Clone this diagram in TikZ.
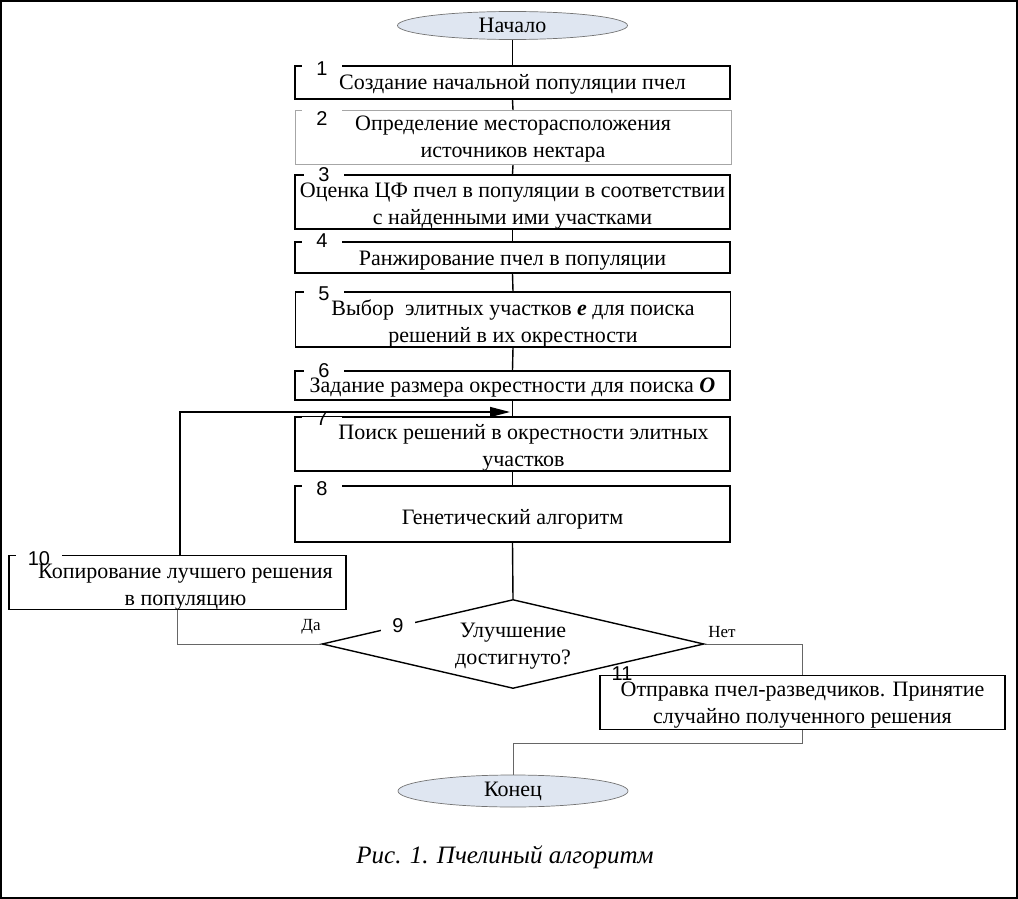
\documentclass[tikz,border=0pt]{standalone}
\usepackage{fontspec}
\setmainfont{Liberation Serif}
\newfontfamily\numfont{Liberation Sans}
\usetikzlibrary{shapes.geometric,arrows.meta,backgrounds}
% digit lowered by #1 while its box is a thin strip round the border
\newcommand\numtxt[2]{\raisebox{#1}[2.5pt][2.5pt]{#2}}
% box text lowered by #1, keeping its reported size
\newcommand\bt[2]{\raisebox{#1}[\height][\depth]{\begin{tabular}{@{}c@{}}#2\end{tabular}}}
\begin{document}
\begin{tikzpicture}[x=1pt,y=-1pt,
  every node/.style={font=\fontsize{22}{27}\selectfont},
  stepbox/.style={draw, line width=1.5pt, fill=white, rectangle, inner sep=0pt, align=center},
  graybox/.style={stepbox, draw=black!35, line width=1pt},
  term/.style={ellipse, draw=black!55, line width=0.7pt, fill=termfill, inner sep=0pt, minimum width=230pt, font=\fontsize{22}{24}\selectfont},
  numlbl/.style={fill=white, inner sep=0pt, minimum width=40pt, font=\numfont\fontsize{20}{20}\selectfont},
  conn/.style={line width=1.4pt},
  gconn/.style={line width=0.8pt, draw=black!60},
  small/.style={font=\fontsize{17}{20}\selectfont}
]
\definecolor{termfill}{HTML}{DFE6F1}
\useasboundingbox (0,0) rectangle (1018,899);
\draw[line width=2pt] (1,1) rectangle (1017,898);

% terminals
\node[term, minimum height=28pt] (start) at (512.5,25.5) {Начало};
\node[term, minimum height=32pt] (end) at (513,791) {Конец};

% boxes
\node[stepbox, minimum width=435pt, minimum height=33pt] (b1) at (512.5,82.5) {\bt{-2pt}{Создание начальной популяции пчел}};
\node[graybox, minimum width=436pt, minimum height=51pt] (b2) at (513,137.5) {\bt{-1.5pt}{Определение месторасположения\\источников нектара}};
\node[stepbox, minimum width=435pt, minimum height=53pt] (b3) at (512.5,202) {\bt{-3.5pt}{Оценка ЦФ пчел в популяции в соответствии\\с найденными ими участками}};
\node[stepbox, minimum width=435pt, minimum height=31pt] (b4) at (512.5,257.5) {\bt{-3pt}{Ранжирование пчел в популяции}};
\node[stepbox, minimum width=435pt, minimum height=55pt] (b5) at (513,319.5) {\bt{-4pt}{Выбор~ элитных участков \textbf{\textit{е}} для поиска\\решений в их окрестности}};
\node[stepbox, minimum width=435pt, minimum height=29pt] (b6) at (512.5,385.5) {\bt{-2pt}{Задание размера окрестности для поиска \textbf{\textit{О}}}};
\node[stepbox, minimum width=435pt, minimum height=50pt] (b7) at (512.5,444) {\bt{-4pt}{\hspace*{22pt}Поиск решений в окрестности элитных\\\hspace*{22pt}участков}};
\node[stepbox, minimum width=435pt, minimum height=56pt] (b8) at (512.5,514) {\bt{-5pt}{Генетический алгоритм}};
\node[stepbox, minimum width=337pt, minimum height=53pt] (b10) at (177.5,582.5) {\bt{-4pt}{\hspace*{16pt}Копирование лучшего решения\\\hspace*{16pt}в популяцию}};
\node[diamond, draw, line width=1.4pt, fill=white, inner sep=0pt, aspect=4.3, minimum width=382pt, minimum height=89pt, align=center] (d) at (513,644) {\bt{-2pt}{Улучшение\\достигнуто?}};

% connectors
\begin{scope}[on background layer]
\draw[conn] (start.south) -- (b1.north);
\draw[conn] (b1.south) -- (b2.north);
\draw[conn] (b2.south) -- (b3.north);
\draw[conn] (b3.south) -- (b4.north);
\draw[conn] (b4.south) -- (b5.north);
\draw[conn] (b5.south) -- (b6.north);
\draw[conn] (b6.south) -- (b7.north);
\draw[conn] (b7.south) -- (b8.north);
\draw[conn] (b8.south) -- (d.north);
\draw[gconn] (b10.south) |- (d.west);
\coordinate (turn) at (802,743);
\draw[gconn] (d.east) -| (turn) -| (end.north);
\end{scope}
\coordinate (loop) at (180,556);
\coordinate (join) at (510,412);
\draw[conn, -{Triangle[length=20pt,width=10pt]}] (loop) |- (join);

\node[stepbox, minimum width=405pt, minimum height=49pt] (b11) at (802.5,702.5) {\bt{-2pt}{Отправка пчел-разведчиков. Принятие\\случайно полученного решения}};

% numbers
\node[numlbl] (n1) at (322,66) {\numtxt{-9.7pt}{1}};
\node[numlbl] (n2) at (322,112) {\numtxt{-13.2pt}{2}};
\node[numlbl] (n3) at (324,175.5) {\numtxt{-6.2pt}{3}};
\node[numlbl] (n4) at (322,242) {\numtxt{-5.2pt}{4}};
\node[numlbl] (n5) at (324,292) {\numtxt{-8.2pt}{5}};
\node[numlbl] (n6) at (324,371) {\numtxt{-6.2pt}{6}};
\node[numlbl] (n7) at (322,419) {\numtxt{-6.2pt}{7}};
\node[numlbl] (n8) at (322,486) {\numtxt{-9.2pt}{8}};
\node[numlbl, minimum width=46pt] (n10) at (39,556) {\numtxt{-9.2pt}{10}};
\node[numlbl, minimum width=35pt] (n11) at (622,678) {\numtxt{-2.2pt}{11}};
\node[numlbl, minimum width=34pt] (n9) at (398,626) {9};

% branch labels
\node[small] (da) at (311,627) {Да};
\node[small] (net) at (722,632) {Нет};

% caption
\node[font=\itshape\fontsize{25}{28}\selectfont] (cap) at (505,857) {Рис. 1. Пчелиный алгоритм};
\end{tikzpicture}
\end{document}
